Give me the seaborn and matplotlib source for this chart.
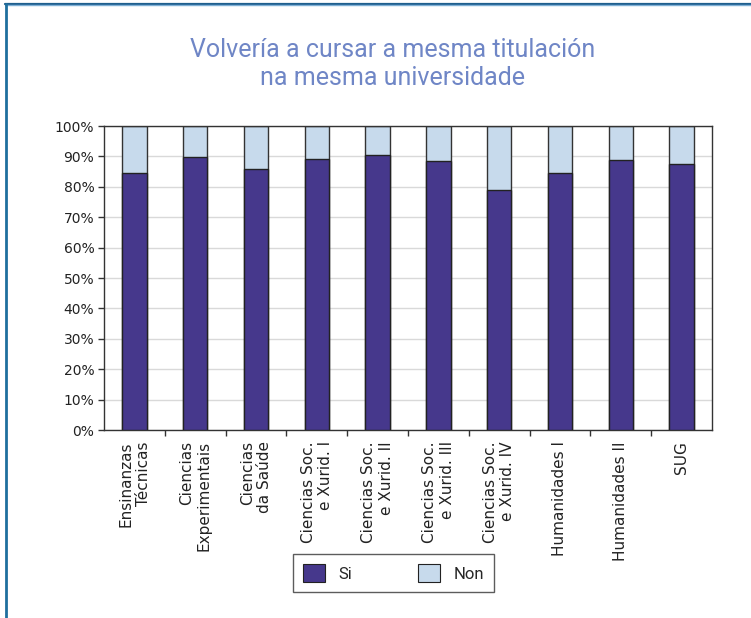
import matplotlib
matplotlib.use("Agg")
import matplotlib.pyplot as plt
from matplotlib.lines import Line2D
from matplotlib.patches import Patch
from matplotlib.ticker import MultipleLocator, PercentFormatter
import seaborn as sns
import pandas as pd

categories = [
    "Ensinanzas\nTécnicas",
    "Ciencias\nExperimentais",
    "Ciencias\nda Saúde",
    "Ciencias Soc.\ne Xurid. I",
    "Ciencias Soc.\ne Xurid. II",
    "Ciencias Soc.\ne Xurid. III",
    "Ciencias Soc.\ne Xurid. IV",
    "Humanidades I",
    "Humanidades II",
    "SUG",
]
si = [84.6, 89.8, 85.8, 89.2, 90.3, 88.5, 79.0, 84.6, 88.8, 87.4]
non = [100 - v for v in si]

title = "Volvería a cursar a mesma titulación\nna mesma universidade"
series_names = ["Si", "Non"]

SI_COLOR = "#46388c"
NON_COLOR = "#c7daec"
TITLE_COLOR = "#6f86c6"
TITLE_FONT = ["Liberation Sans Narrow", "Roboto", "DejaVu Sans"]

sns.set_theme(style="white")
plt.rcParams["font.family"] = ["DejaVu Sans"]

df = pd.DataFrame({"cat": categories, "Si": si, "Non": non})
df["total"] = df["Si"] + df["Non"]

fig = plt.figure(figsize=(7.51, 6.18), dpi=100)
ax = fig.add_axes([104 / 751, 1 - 430 / 618, 608 / 751, 304 / 618])

# stacked bars: full column (Non on top) then Si from the baseline
sns.barplot(data=df, x="cat", y="total", color=NON_COLOR, width=0.4,
            edgecolor="#333333", linewidth=1.0, saturation=1, ax=ax, zorder=2)
sns.barplot(data=df, x="cat", y="Si", color=SI_COLOR, width=0.4,
            edgecolor="#222222", linewidth=1.0, saturation=1, ax=ax, zorder=3)

ax.set_xlim(-0.5, len(categories) - 0.5)
ax.set_ylim(0, 100)
ax.yaxis.set_major_locator(MultipleLocator(10))
ax.yaxis.set_major_formatter(PercentFormatter(decimals=0))
ax.grid(axis="y", color="#d9d9d9", linewidth=1.0, zorder=0)
ax.set_axisbelow(True)
ax.set_xlabel("")
ax.set_ylabel("")

for s in ax.spines.values():
    s.set_color("#333333")
    s.set_linewidth(1.0)

ax.tick_params(axis="y", which="major", left=True, length=4, width=1,
               color="#333333", labelsize=10, labelcolor="#222222", pad=3)
ax.set_xticks(range(len(categories)))
ax.set_xticklabels(categories, rotation=90, fontsize=11, color="#222222",
                   multialignment="right", va="top", ha="center")
ax.tick_params(axis="x", which="major", bottom=False, pad=2)
ax.set_xticks([i + 0.5 for i in range(len(categories) - 1)], minor=True)
ax.tick_params(axis="x", which="minor", bottom=True, length=4, width=1,
               color="#333333")

fig.text(393 / 751, 1 - 64 / 618, title, ha="center", va="center",
         fontsize=18, color=TITLE_COLOR, family=TITLE_FONT, linespacing=1.2)

handles = [Patch(facecolor=SI_COLOR, edgecolor="#222222", linewidth=0.8),
           Patch(facecolor=NON_COLOR, edgecolor="#222222", linewidth=0.8)]
leg = fig.legend(handles, series_names, loc="center",
                 bbox_to_anchor=(393.5 / 751, 1 - 573 / 618), ncol=2,
                 frameon=True, fancybox=False, edgecolor="#333333",
                 handlelength=1.3, handleheight=1.3, columnspacing=4.0,
                 borderpad=0.6, prop={"family": TITLE_FONT, "size": 12})
leg.get_frame().set_linewidth(1.0)

# page frame along the top and left edges
fig.add_artist(Line2D([5 / 751, 1], [1 - 3.5 / 618] * 2, transform=fig.transFigure,
                      color="#1f5f8e", linewidth=1.6))
fig.add_artist(Line2D([5 / 751, 1], [1 - 5 / 618] * 2, transform=fig.transFigure,
                      color="#7fb0d6", linewidth=1.0))
fig.add_artist(Line2D([5.5 / 751] * 2, [0, 1 - 3.5 / 618], transform=fig.transFigure,
                      color="#1f6f9e", linewidth=2.0))

fig.savefig("out.png", dpi=100)
